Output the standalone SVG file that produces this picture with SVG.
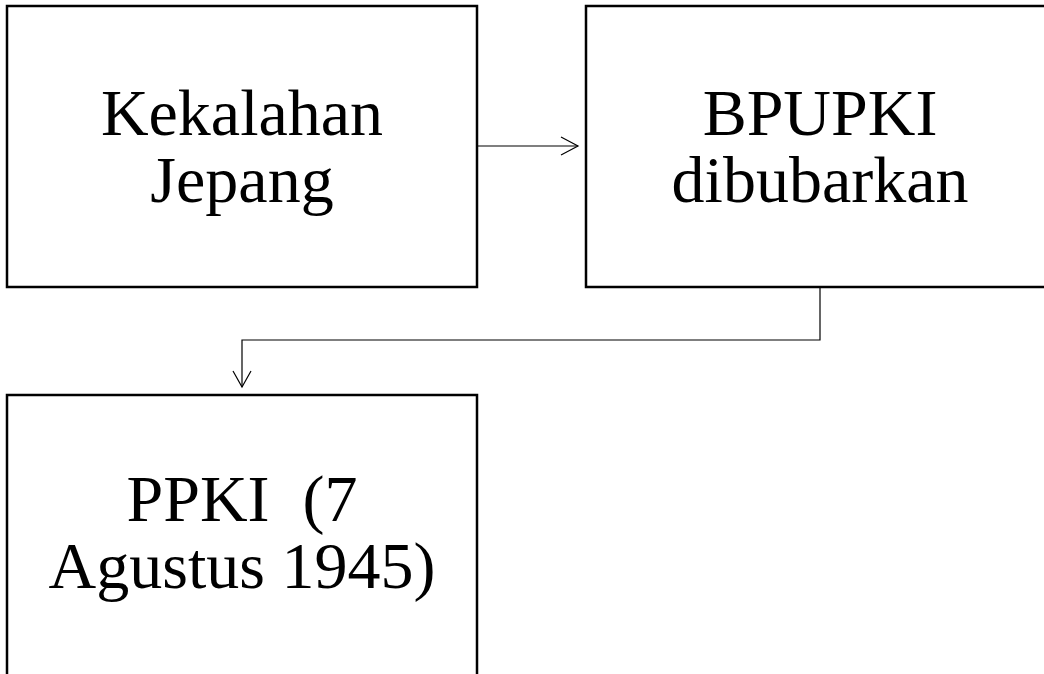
<svg xmlns="http://www.w3.org/2000/svg" width="1044" height="674" viewBox="0 0 1044 674">
<style>
.box{fill:#fff;stroke:#000;stroke-width:2.5}
.lbl{font-family:"Liberation Serif","Times New Roman",serif;font-size:66px;fill:#000;text-anchor:middle}
.conn{fill:none;stroke:#000;stroke-width:1.2}
</style>
<rect width="1044" height="674" fill="#fff"/>
<g id="node-kekalahan">
<rect class="box" x="7" y="6" width="470" height="281"/>
<text class="lbl" x="242" y="135">Kekalahan</text>
<text class="lbl" x="242" y="202">Jepang</text>
</g>
<g id="node-bpupki">
<rect class="box" x="586" y="6" width="470" height="281"/>
<text class="lbl" x="820" y="135">BPUPKI</text>
<text class="lbl" x="820" y="202">dibubarkan</text>
</g>
<g id="node-ppki">
<rect class="box" x="7" y="395" width="470" height="300"/>
<text class="lbl" x="242" y="521" xml:space="preserve">PPKI  (7</text>
<text class="lbl" x="242" y="588">Agustus 1945)</text>
</g>
<g id="connectors">
<line class="conn" x1="477" y1="146" x2="578" y2="146"/>
<polyline class="conn" points="561,137 578,146 561,155"/>
<polyline class="conn" points="820,287 820,340 242,340 242,387"/>
<polyline class="conn" points="233,371 242,387 251,371"/>
</g>
</svg>
